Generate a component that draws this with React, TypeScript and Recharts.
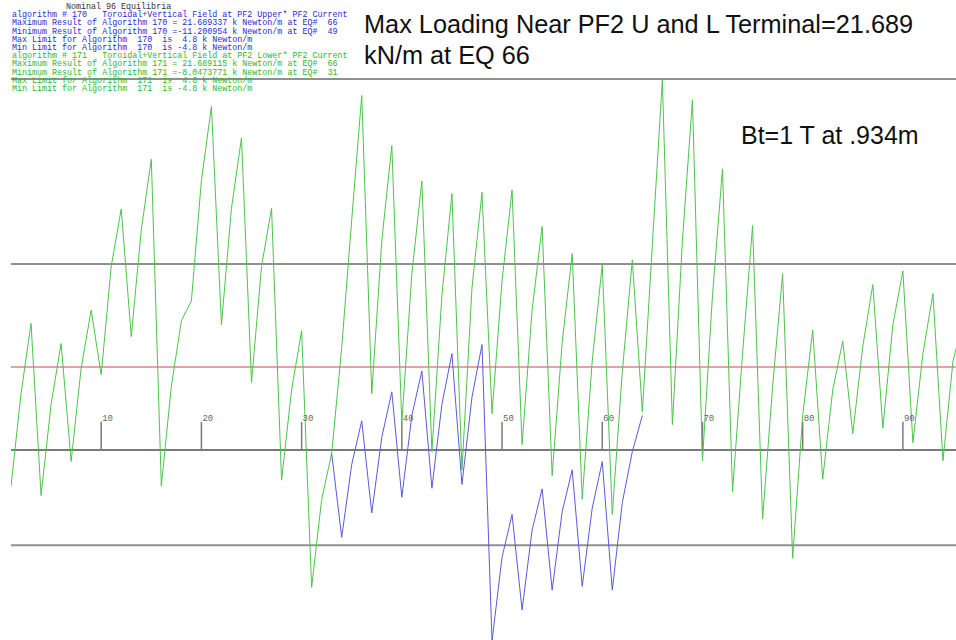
import { LineChart, Line, XAxis, YAxis, ReferenceLine, ReferenceDot } from "recharts";

// loading per equilibrium, kN/m (EQ 1..96)
const lowerLoad = [
  -2.13, 3.3, 7.42, -2.67, 2.67, 6.24, -0.68, 4.8, 8.2, 4.41,
  10.76, 14.13, 6.65, 12.9, 17.05, -2.1, 3.73, 7.57, 8.74, 15.8,
  20.14, 7.35, 14.17, 18.29, 3.95, 10.76, 14.17, -1.77, 3.52, 6.99,
  -8.05, -2.9, -0.2, 6.0, 13.5, 20.78, 3.31, 12.26, 17.84, 1.6,
  10.34, 15.77, -0.1, 9.06, 15.03, -1.17, 9.5, 15.1, 2.13, 9.91,
  15.24, 0.32, 8.2, 13.1, -1.5, 6.29, 11.51, -2.88, 5.22, 10.87,
  -3.78, 4.58, 11.15, 2.24, 12.05, 21.69, 1.49, 12.26, 20.53, -0.64,
  9.06, 16.48, -2.45, 5.65, 13.15, -4.05, 3.73, 10.34, -6.35, 2.02,
  7.03, -1.71, 3.52, 6.39, 0.96, 6.07, 9.7, 1.28, 7.35, 10.49,
  0.43, 5.65, 9.17, -0.64, 5.22, 7.5,
];

// algorithm 170 only plotted for EQ 33..64
const upperStart = 33;
const upperLoad = [
  -0.2, -5.12, -0.85, 1.71, -3.69, 0.74, 3.41, -2.77, 2.02, 4.63,
  -2.24, 2.67, 5.65, -2.02, 3.09, 6.18, -11.2, -6.29, -3.78, -9.38,
  -4.69, -2.28, -8.21, -3.62, -1.17, -8.0, -3.41, -0.68, -8.21, -3.09,
  -0.1, 2.02,
];

const grayLines = [21.75, 10.9, -5.58];
const limitLine = 4.86;
const tickEqs = [10, 20, 30, 40, 50, 60, 70, 80, 90];

const headerLines = [
  { text: "algorithm # 170   Toroidal+Vertical Field at PF2 Upper* PF2 Current", color: "#2a2ad0" },
  { text: "Maximum Result of Algorithm 170 = 21.689337 k Newton/m at EQ#  66", color: "#2a2ad0" },
  { text: "Minimum Result of Algorithm 170 =-11.200954 k Newton/m at EQ#  49", color: "#2a2ad0" },
  { text: "Max Limit for Algorithm  170  is  4.8 k Newton/m", color: "#2a2ad0" },
  { text: "Min Limit for Algorithm  170  is -4.8 k Newton/m", color: "#2a2ad0" },
  { text: "algorithm # 171   Toroidal+Vertical Field at PF2 Lower* PF2 Current", color: "#2cb82c" },
  { text: "Maximum Result of Algorithm 171 = 21.689115 k Newton/m at EQ#  66", color: "#2cb82c" },
  { text: "Minimum Result of Algorithm 171 =-8.0473771 k Newton/m at EQ#  31", color: "#2cb82c" },
  { text: "Max Limit for Algorithm  171  is  4.8 k Newton/m", color: "#2cb82c" },
  { text: "Min Limit for Algorithm  171  is -4.8 k Newton/m", color: "#2cb82c" },
];

const rows = lowerLoad.map((v, i) => {
  const eq = i + 1;
  const j = eq - upperStart;
  return {
    eq,
    lower: v,
    upper: j >= 0 && j < upperLoad.length ? upperLoad[j] : null,
  };
});

const mono = "'Liberation Mono', 'DejaVu Sans Mono', monospace";
const sans = "'Liberation Sans', Arial, sans-serif";

export default function App() {
  return (
    <div
      style={{
        position: "absolute",
        left: 0,
        top: 0,
        width: 956,
        height: 640,
        background: "#fff",
        overflow: "hidden",
      }}
    >
      <LineChart
        width={956}
        height={640}
        data={rows}
        margin={{ top: 0, right: 0, bottom: 0, left: 11 }}
      >
        <XAxis
          type="number"
          dataKey="eq"
          domain={[1, 95.3]}
          allowDataOverflow
          hide
        />
        <YAxis type="number" domain={[-11.14, 26.38]} allowDataOverflow hide />
        {grayLines.map((v) => (
          <ReferenceLine key={v} y={v} stroke="#909090" strokeWidth={2} />
        ))}
        <ReferenceLine y={limitLine} stroke="#e4a4a4" strokeWidth={2} />
        <ReferenceLine y={0} stroke="#7a7a7a" strokeWidth={2} />
        {tickEqs.map((n) => (
          <ReferenceLine
            key={`t${n}`}
            segment={[
              { x: n, y: 0 },
              { x: n, y: 1.65 },
            ]}
            stroke="#7a7a7a"
            strokeWidth={1.5}
          />
        ))}
        {tickEqs.map((n) => (
          <ReferenceDot
            key={`l${n}`}
            x={n}
            y={1.9}
            r={1}
            fill="none"
            stroke="none"
            label={{
              value: String(n),
              position: "right",
              offset: 0,
              fill: "#666",
              fontSize: 9,
              fontFamily: mono,
            }}
          />
        ))}
        <Line
          type="linear"
          dataKey="lower"
          stroke="#4cc44c"
          strokeWidth={1}
          dot={false}
          isAnimationActive={false}
        />
        <Line
          type="linear"
          dataKey="upper"
          stroke="#5a5ad8"
          strokeWidth={1}
          dot={false}
          connectNulls={false}
          isAnimationActive={false}
        />
      </LineChart>

      <div
        style={{
          position: "absolute",
          left: 66,
          top: 3,
          fontFamily: mono,
          fontSize: 8.35,
          lineHeight: "8.2px",
          color: "#333",
          whiteSpace: "pre",
        }}
      >
        Nominal 96 Equilibria
      </div>
      <div
        style={{
          position: "absolute",
          left: 12,
          top: 11.2,
          fontFamily: mono,
          fontSize: 8.35,
          lineHeight: "8.2px",
          whiteSpace: "pre",
        }}
      >
        {headerLines.map((l, i) => (
          <div key={i} style={{ color: l.color }}>
            {l.text}
          </div>
        ))}
      </div>

      <div
        style={{
          position: "absolute",
          left: 364,
          top: 9,
          fontFamily: sans,
          fontSize: 25.3,
          lineHeight: "31px",
          color: "#111",
          whiteSpace: "pre",
        }}
      >
        {"Max Loading Near PF2 U and L Terminal=21.689\nkN/m at EQ 66"}
      </div>
      <div
        style={{
          position: "absolute",
          left: 741,
          top: 120,
          fontFamily: sans,
          fontSize: 25,
          lineHeight: "30px",
          color: "#111",
          whiteSpace: "pre",
        }}
      >
        Bt=1 T at .934m
      </div>
    </div>
  );
}
